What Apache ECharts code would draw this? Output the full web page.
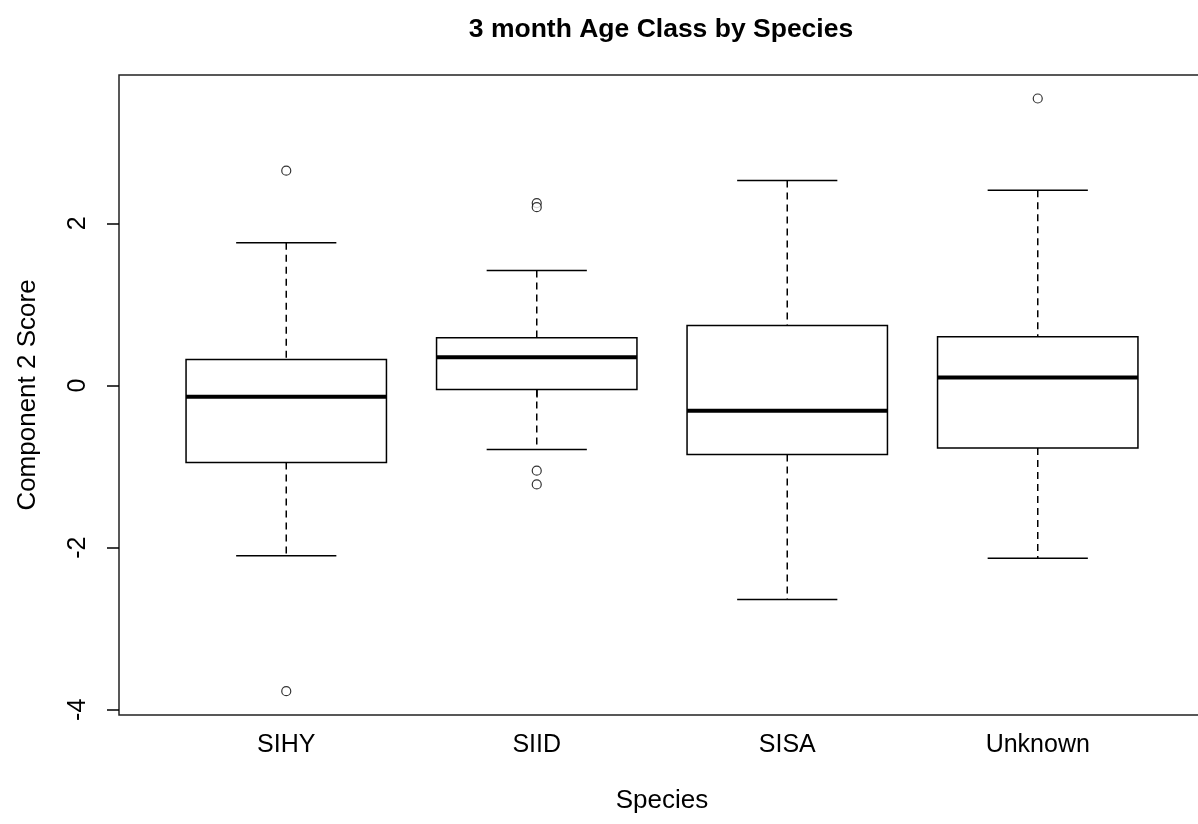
<!DOCTYPE html>
<html>
<head>
<meta charset="utf-8">
<script src="https://cdn.jsdelivr.net/npm/echarts@6/dist/echarts.min.js"></script>
<style>
html,body{margin:0;padding:0;background:#fff;}
#chart{width:1198px;height:824px;}
</style>
</head>
<body>
<div id="chart"></div>
<script>
// ---- data ----
var categories = ['SIHY', 'SIID', 'SISA', 'Unknown'];
var lowerWhisker = [-2.10, -0.79, -2.64, -2.13];
var q1Values     = [-0.95, -0.05, -0.85, -0.77];
var medianValues = [-0.14, 0.35, -0.31, 0.10];
var q3Values     = [0.32, 0.59, 0.74, 0.60];
var upperWhisker = [1.76, 1.42, 2.53, 2.41];
// outliers: [categoryIndex, value]
var outliers = [[0, 2.65], [0, -3.77], [1, 2.25], [1, 2.20], [1, -1.05], [1, -1.22], [3, 3.54]];
var yTickValues = [-4, -2, 0, 2];
var yMin = -4.064, yMax = 3.830;

var titleText = '3 month Age Class by Species';
var xName = 'Species';
var yName = 'Component 2 Score';

var FONT = '"Liberation Sans", Arial, sans-serif';

var boxData = categories.map(function (c, i) {
  return [i, lowerWhisker[i], q1Values[i], medianValues[i], q3Values[i], upperWhisker[i]];
});

var chart = echarts.init(document.getElementById('chart'), null, {renderer: 'canvas'});

function renderBox(params, api) {
  var x = api.value(0);
  var lo = api.coord([x, api.value(1)]);
  var q1 = api.coord([x, api.value(2)]);
  var med = api.coord([x, api.value(3)]);
  var q3 = api.coord([x, api.value(4)]);
  var hi = api.coord([x, api.value(5)]);
  var band = api.size([1, 0])[0];
  var bw = band * 0.8 / 2;
  var cw = band * 0.4 / 2;
  var cx = lo[0];
  var solid = {stroke: '#000', lineWidth: 1.5, fill: null};
  var dashed = {stroke: '#000', lineWidth: 1.5, lineDash: [7, 5], fill: null};
  return {
    type: 'group',
    children: [
      {type: 'line', shape: {x1: cx, y1: hi[1], x2: cx, y2: q3[1]}, style: dashed},
      {type: 'line', shape: {x1: cx, y1: q1[1], x2: cx, y2: lo[1]}, style: dashed},
      {type: 'line', shape: {x1: cx - cw, y1: hi[1], x2: cx + cw, y2: hi[1]}, style: solid},
      {type: 'line', shape: {x1: cx - cw, y1: lo[1], x2: cx + cw, y2: lo[1]}, style: solid},
      {type: 'rect', shape: {x: cx - bw, y: q3[1], width: bw * 2, height: q1[1] - q3[1]},
        style: {stroke: '#000', lineWidth: 1.5, fill: '#fff'}},
      {type: 'line', shape: {x1: cx - bw, y1: med[1], x2: cx + bw, y2: med[1]},
        style: {stroke: '#000', lineWidth: 4}}
    ]
  };
}

var option = {
  backgroundColor: '#fff',
  animation: false,
  textStyle: {fontFamily: FONT},
  title: {
    text: titleText,
    left: 661,
    top: 16,
    textAlign: 'center',
    padding: 0,
    textStyle: {fontFamily: FONT, fontSize: 26.5, fontWeight: 'bold', color: '#000'}
  },
  grid: [
    {left: 119, top: 75, width: 1084, height: 640, show: true, borderColor: '#222', borderWidth: 1.5,
      backgroundColor: 'transparent', outerBoundsMode: 'none', containLabel: false},
    {left: 161, top: 75, width: 1002, height: 640, show: false, outerBoundsMode: 'none', containLabel: false}
  ],
  xAxis: [
    {gridIndex: 0, type: 'value', show: false, min: 0, max: 1},
    {
      gridIndex: 1, type: 'category', data: categories, boundaryGap: true,
      name: xName, nameLocation: 'middle', nameGap: 73,
      nameTextStyle: {fontFamily: FONT, fontSize: 26, color: '#000'},
      axisLine: {show: false},
      axisTick: {show: true, alignWithLabel: true, length: 12, lineStyle: {color: '#000', width: 1.5}},
      axisLabel: {fontFamily: FONT, fontSize: 25, color: '#000', margin: 18},
      splitLine: {show: false}
    }
  ],
  yAxis: [
    {gridIndex: 0, type: 'value', show: false, min: 0, max: 1},
    {
      gridIndex: 1, type: 'value', min: yMin, max: yMax, offset: 42,
      name: yName, nameLocation: 'middle', nameRotate: 90, nameGap: 78,
      nameTextStyle: {fontFamily: FONT, fontSize: 26, color: '#000'},
      axisLine: {show: false},
      axisTick: {show: true, length: 12, customValues: yTickValues, lineStyle: {color: '#000', width: 1.5}},
      axisLabel: {fontFamily: FONT, fontSize: 25, color: '#000', rotate: 90, margin: 28, customValues: yTickValues},
      splitLine: {show: false}
    }
  ],
  series: [
    {
      type: 'custom',
      xAxisIndex: 1, yAxisIndex: 1,
      renderItem: renderBox,
      encode: {x: 0, y: [1, 2, 3, 4, 5]},
      data: boxData,
      z: 2
    },
    {
      type: 'scatter',
      xAxisIndex: 1, yAxisIndex: 1,
      symbol: 'circle',
      symbolSize: 9,
      itemStyle: {color: '#fff', borderColor: '#000', borderWidth: 1.2},
      data: outliers,
      z: 3
    }
  ]
};
chart.setOption(option);
</script>
</body>
</html>
